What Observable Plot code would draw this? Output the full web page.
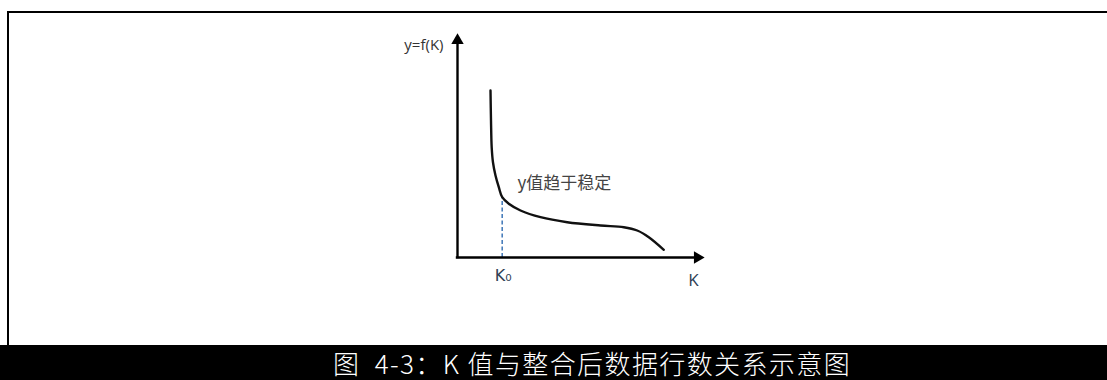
<!DOCTYPE html>
<html>
<head>
<meta charset="utf-8">
<script src="https://cdn.jsdelivr.net/npm/d3@7"></script>
<script src="https://cdn.jsdelivr.net/npm/@observablehq/plot@0.6"></script>
<style>
  html, body { margin: 0; padding: 0; background: #fff; overflow: hidden; }
  #wrap { position: relative; width: 1107px; height: 380px; overflow: hidden; background: #fff; }
  #frameTop { position: absolute; left: 7px; top: 11px; width: 1100px; height: 2px; background: #000; }
  #frameLeft { position: absolute; left: 7px; top: 11px; width: 2px; height: 334px; background: #000; }
  #chart { position: absolute; left: 0; top: 0; width: 1107px; height: 345px; overflow: hidden; }
  #chart svg { display: block; }
  #caption { position: absolute; left: 0; top: 345px; width: 1107px; height: 35px; background: #000;
             color: #fff; font-family: "Noto Sans CJK SC", sans-serif; font-size: 26px; font-weight: 300;
             line-height: 33px; white-space: nowrap; overflow: hidden; }
  #caption span { position: absolute; left: 333px; top: 1px; letter-spacing: 1.4px; }
</style>
</head>
<body>
<div id="wrap">
  <div id="chart"></div>
  <div id="frameTop"></div>
  <div id="frameLeft"></div>
  <div id="caption"><span>图&nbsp; 4-3：K 值与整合后数据行数关系示意图</span></div>
</div>
<script>
// Axis extents (schematic units)
const kMax = 247;
const yMax = 224;

// Curve y = f(K)
const kValues = [33, 33.5, 34.2, 35.5, 38, 41.3, 44.7, 51.3, 63, 83, 109.7, 143, 166.3, 179.7, 191.3, 206.3];
const yValues = [167, 137, 110, 95, 82, 70.3, 60.3, 53.7, 47, 40.3, 35.3, 32, 30.3, 27, 20.3, 7.7];

// Marked point K0
const k0 = 44.7;
const yAtK0 = 60.3;

// Labels
const yAxisLabel = "y=f(K)";
const xAxisLabel = "K";
const k0Label = "K₀";
const noteLabel = "y值趋于稳定";

const curve = kValues.map((k, i) => ({k, y: yValues[i]}));

const plot = Plot.plot({
  width: 1107,
  height: 345,
  marginLeft: 457,
  marginRight: 403,
  marginTop: 33,
  marginBottom: 88,
  x: {domain: [0, kMax], axis: null},
  y: {domain: [0, yMax], axis: null},
  style: {background: "transparent"},
  marks: [
    // dashed guide at K0
    Plot.ruleX([k0], {y1: 0, y2: yAtK0, stroke: "#4a7ebb", strokeWidth: 1.6, strokeDasharray: "4,2.5"}),
    // axes
    Plot.ruleX([0], {y1: 0, y2: yMax - 8, stroke: "#000", strokeWidth: 2.4, strokeLinecap: "square"}),
    Plot.ruleY([0], {x1: 0, x2: kMax - 8, stroke: "#000", strokeWidth: 2.4, strokeLinecap: "square"}),
    Plot.dot([{k: 0, y: yMax - 7}], {x: "k", y: "y", symbol: "triangle", r: 4.6, fill: "#000", stroke: "none"}),
    Plot.dot([{k: kMax - 7, y: 0}], {x: "k", y: "y", symbol: "triangle", r: 4.6, fill: "#000", stroke: "none", rotate: 90}),
    // curve
    Plot.line(curve, {x: "k", y: "y", curve: "catmull-rom", stroke: "#111", strokeWidth: 2.4, strokeLinecap: "round"}),
    // labels
    Plot.text([yAxisLabel], {x: -14, y: yMax - 12, text: d => d, textAnchor: "end", fontSize: 15,
      fontFamily: "Open Sans, sans-serif", fill: "#333"}),
    Plot.text([xAxisLabel], {x: 236, y: -23, text: d => d, fontSize: 17,
      fontFamily: "Open Sans, sans-serif", fill: "#2f3f55"}),
    Plot.text([k0Label], {x: k0 + 1, y: -18, text: d => d, fontSize: 16,
      fontFamily: "DejaVu Sans, sans-serif", fill: "#2f3f55"}),
    Plot.text([noteLabel], {x: 60, y: 74, text: d => d, textAnchor: "start", fontSize: 17,
      fontFamily: "Noto Sans CJK SC, sans-serif", fill: "#444"})
  ]
});
document.getElementById("chart").appendChild(plot);
</script>
</body>
</html>
